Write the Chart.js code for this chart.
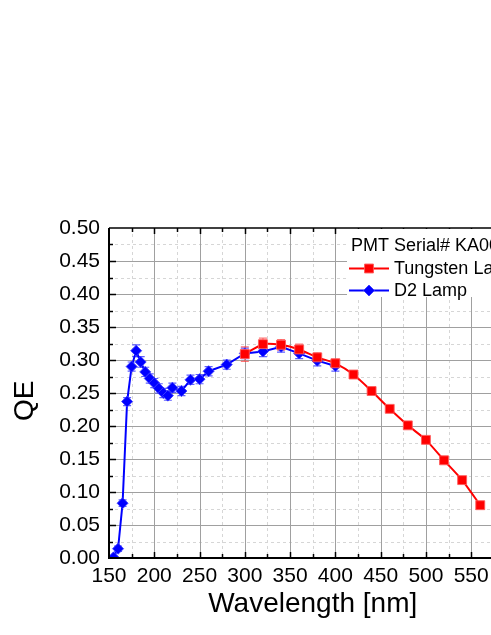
<!DOCTYPE html>
<html>
<head>
<meta charset="utf-8">
<title>QE vs Wavelength</title>
<script src="https://cdn.jsdelivr.net/npm/chart.js@4.4.1/dist/chart.umd.min.js"></script>
<style>
    html, body { margin: 0; padding: 0; background: #fff; overflow: hidden; }
    #wrap { position: absolute; left: 0; top: 0; width: 540px; height: 635px; }
</style>
</head>
<body>
<div id="wrap"><canvas id="qeChart" width="540" height="635"></canvas></div>
<script>
// 数据：Tungsten 灯
const tungstenWl = [300, 320, 340, 360, 380, 400, 420, 440, 460, 480, 500, 520, 540, 560];
const tungstenQe = [0.309, 0.324, 0.323, 0.316, 0.304, 0.295, 0.278, 0.253, 0.226, 0.201, 0.179, 0.148, 0.118, 0.080];
const tungstenErr = [0.011, 0.009, 0.008, 0.008, 0.007, 0.006, 0.005, 0.004, 0.004, 0.004, 0.004, 0.004, 0.004, 0.004];

// 数据：D2 灯
const d2Wl = [155, 160, 165, 170, 175, 180, 185, 190, 195, 200, 205, 210, 215, 220, 230, 240, 250, 260, 280, 300, 320, 340, 360, 380, 400];
const d2Qe = [0.001, 0.014, 0.083, 0.237, 0.290, 0.314, 0.297, 0.282, 0.272, 0.265, 0.257, 0.250, 0.246, 0.258, 0.253, 0.270, 0.271, 0.283, 0.293, 0.310, 0.313, 0.320, 0.310, 0.299, 0.291];
const d2Err = [0.002, 0.004, 0.005, 0.006, 0.007, 0.009, 0.008, 0.007, 0.007, 0.007, 0.007, 0.007, 0.007, 0.007, 0.007, 0.007, 0.007, 0.007, 0.007, 0.008, 0.008, 0.008, 0.008, 0.008, 0.008];

// 坐标轴
const xMin = 150, xMax = 600, xStep = 50;
const yMin = 0, yMax = 0.5, yStep = 0.05;

const legendTitle = 'PMT Serial# KA0046';
const FONT = '"Liberation Sans", Arial, sans-serif';

function toPoints(xs, ys) {
    return xs.map((v, i) => ({ x: v, y: ys[i] }));
}

function line(ctx, x1, y1, x2, y2) {
    ctx.beginPath();
    ctx.moveTo(x1, y1);
    ctx.lineTo(x2, y2);
    ctx.stroke();
}

// 网格线 + 误差棒
const gridAndErrors = {
    id: 'gridAndErrors',
    beforeDatasetsDraw(chart) {
        const { ctx, chartArea: a, scales: { x, y } } = chart;
        ctx.save();
        ctx.lineWidth = 1;

        // 次网格（虚线）
        ctx.setLineDash([3, 3]);
        ctx.strokeStyle = '#d6d6d6';
        for (let v = xMin + xStep / 2; v < xMax; v += xStep) {
            const px = Math.round(x.getPixelForValue(v)) + 0.5;
            line(ctx, px, a.top, px, a.bottom);
        }
        for (let k = 0; k < 10; k++) {
            const py = Math.round(y.getPixelForValue(yMin + (k + 0.5) * yStep)) + 0.5;
            line(ctx, a.left, py, a.right, py);
        }

        // 主网格
        ctx.setLineDash([]);
        ctx.strokeStyle = '#a0a0a0';
        for (let v = xMin + xStep; v < xMax; v += xStep) {
            const px = Math.round(x.getPixelForValue(v)) + 0.5;
            line(ctx, px, a.top, px, a.bottom);
        }
        for (let k = 1; k < 10; k++) {
            const py = Math.round(y.getPixelForValue(yMin + k * yStep)) + 0.5;
            line(ctx, a.left, py, a.right, py);
        }

        // 误差棒
        ctx.save();
        ctx.beginPath();
        ctx.rect(a.left, a.top, a.right - a.left, a.bottom - a.top);
        ctx.clip();
        const sets = [
            { xs: d2Wl, ys: d2Qe, es: d2Err, color: 'rgba(40, 40, 255, 0.75)' },
            { xs: tungstenWl, ys: tungstenQe, es: tungstenErr, color: 'rgba(255, 60, 60, 0.7)' }
        ];
        sets.forEach(s => {
            ctx.strokeStyle = s.color;
            ctx.lineWidth = 1.2;
            s.xs.forEach((v, i) => {
                const px = x.getPixelForValue(v);
                const top = y.getPixelForValue(s.ys[i] + s.es[i]);
                const bot = y.getPixelForValue(s.ys[i] - s.es[i]);
                line(ctx, px, top, px, bot);
                line(ctx, px - 4, top, px + 4, top);
                line(ctx, px - 4, bot, px + 4, bot);
            });
        });
        ctx.restore();
        ctx.restore();
    },
    afterDatasetsDraw(chart) {
        const { ctx, chartArea: a, scales: { x, y } } = chart;
        ctx.save();
        ctx.strokeStyle = '#000';

        // 坐标轴框
        ctx.lineWidth = 2;
        line(ctx, a.left, a.top, a.left, a.bottom + 1);
        line(ctx, a.left - 1, a.bottom, a.right, a.bottom);
        ctx.lineWidth = 1.5;
        line(ctx, a.left, a.top, a.right, a.top);
        line(ctx, a.right, a.top, a.right, a.bottom);

        // 刻度（朝内）
        ctx.lineWidth = 1.5;
        for (let v = xMin + xStep / 2; v < xMax; v += xStep / 2) {
            const px = Math.round(x.getPixelForValue(v)) + 0.5;
            const len = ((v - xMin) % xStep === 0) ? 6 : 4;
            line(ctx, px, a.bottom, px, a.bottom - len);
            line(ctx, px, a.top, px, a.top + len);
        }
        for (let k = 1; k < 20; k++) {
            const py = Math.round(y.getPixelForValue(yMin + k * yStep / 2)) + 0.5;
            const len = (k % 2 === 0) ? 7 : 4;
            line(ctx, a.left, py, a.left + len, py);
            line(ctx, a.right, py, a.right - len, py);
        }
        ctx.restore();
    },
    afterDraw(chart) {
        // 图例
        const { ctx, data } = chart;
        const lx = 347, ly = 229;
        ctx.save();
        ctx.fillStyle = '#fff';
        ctx.fillRect(lx, ly, 200, 68);

        ctx.fillStyle = '#000';
        ctx.font = '18px ' + FONT;
        ctx.textBaseline = 'middle';
        ctx.textAlign = 'left';
        ctx.fillText(legendTitle, 351, 246);

        data.datasets.forEach((ds, i) => {
            const cy = 268.5 + i * 22;
            ctx.strokeStyle = ds.borderColor;
            ctx.lineWidth = 2;
            line(ctx, 349, cy, 389, cy);
            ctx.fillStyle = ds.pointBackgroundColor;
            ctx.strokeStyle = ds.pointBorderColor;
            ctx.lineWidth = 1;
            Chart.helpers.drawPoint(ctx, {
                pointStyle: ds.pointStyle,
                radius: ds.pointRadius,
                rotation: 0,
                borderWidth: 1
            }, 369, cy);
            ctx.fillStyle = '#000';
            ctx.fillText(ds.label, 394, cy + 0.5);
        });
        ctx.restore();
    }
};

new Chart(document.getElementById('qeChart').getContext('2d'), {
    type: 'line',
    data: {
        datasets: [
            {
                label: 'Tungsten Lamp',
                data: toPoints(tungstenWl, tungstenQe),
                borderColor: '#ff0000',
                borderWidth: 2,
                pointStyle: 'rect',
                pointRadius: 6.3,
                pointBackgroundColor: '#ff0000',
                pointBorderColor: 'rgba(255, 90, 90, 0.9)',
                pointBorderWidth: 1,
                tension: 0.2
            },
            {
                label: 'D2 Lamp',
                data: toPoints(d2Wl, d2Qe),
                borderColor: '#0000ff',
                borderWidth: 2,
                pointStyle: 'rectRot',
                pointRadius: 5.5,
                pointBackgroundColor: '#0000ff',
                pointBorderColor: 'rgba(60, 60, 255, 0.9)',
                pointBorderWidth: 1,
                tension: 0
            }
        ]
    },
    options: {
        responsive: false,
        animation: false,
        layout: {
            padding: { top: 228, right: 11, left: 0, bottom: 0 }
        },
        plugins: {
            legend: { display: false },
            tooltip: { enabled: false }
        },
        scales: {
            x: {
                type: 'linear',
                min: xMin,
                max: xMax,
                grid: { display: false, drawTicks: false },
                border: { display: false },
                ticks: {
                    stepSize: xStep,
                    padding: 6,
                    color: '#000',
                    font: { family: FONT, size: 21 },
                    maxRotation: 0,
                    autoSkip: false
                },
                title: {
                    display: true,
                    text: 'Wavelength [nm]',
                    color: '#000',
                    font: { family: FONT, size: 28 },
                    padding: { top: 0, bottom: 14 }
                },
                afterFit(scale) { scale.height = 77; }
            },
            y: {
                min: yMin,
                max: yMax,
                grid: { display: false, drawTicks: false },
                border: { display: false },
                ticks: {
                    stepSize: yStep,
                    padding: 9,
                    color: '#000',
                    font: { family: FONT, size: 21 },
                    callback: v => v.toFixed(2)
                },
                title: {
                    display: true,
                    text: 'QE  ',
                    color: '#000',
                    font: { family: FONT, size: 28 },
                    padding: { top: 8, bottom: 0 }
                },
                afterFit(scale) { scale.width = 109; }
            }
        }
    },
    plugins: [gridAndErrors]
});
</script>
</body>
</html>
